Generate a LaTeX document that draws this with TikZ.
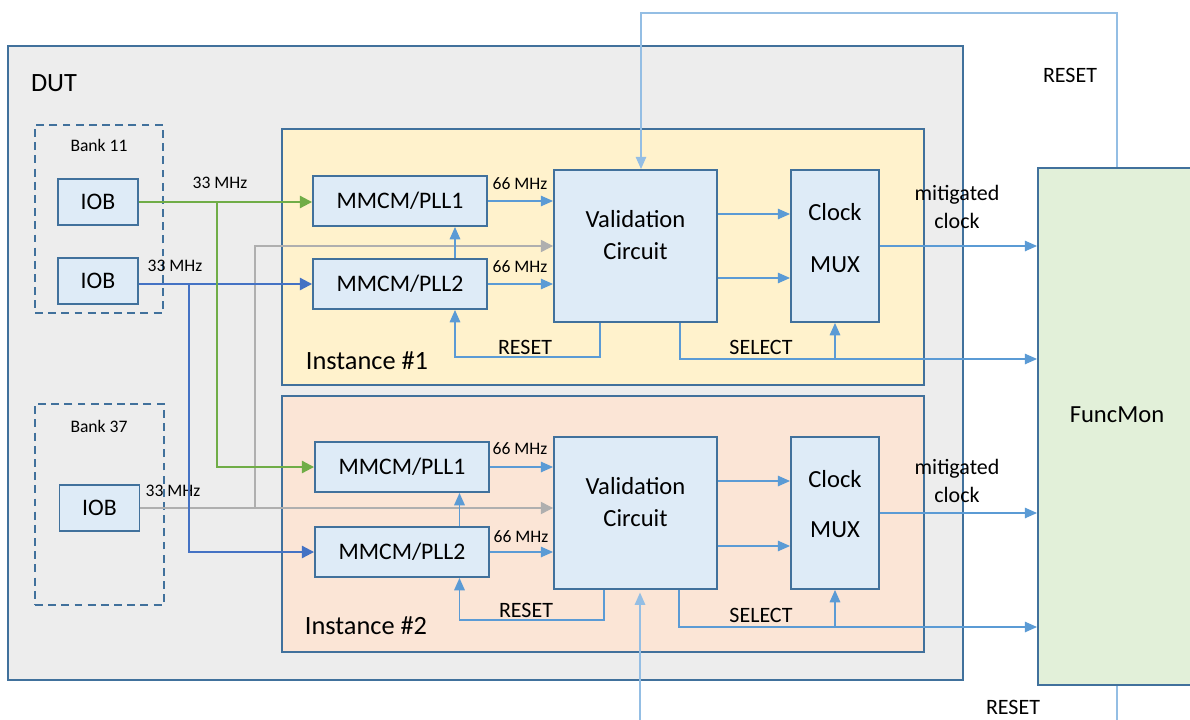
\documentclass[tikz,border=0pt]{standalone}
\usepackage{fontspec}
\setmainfont{Carlito}
\usetikzlibrary{arrows.meta}
\definecolor{frame}{RGB}{65,113,156}
\definecolor{dutgray}{RGB}{237,237,237}
\definecolor{blockblue}{RGB}{222,235,247}
\definecolor{instyellow}{RGB}{255,242,204}
\definecolor{instpeach}{RGB}{251,229,214}
\definecolor{mongreen}{RGB}{226,240,217}
\definecolor{sigblue}{RGB}{91,155,213}
\definecolor{clkgreen}{RGB}{112,173,71}
\definecolor{clkblue}{RGB}{68,114,196}
\definecolor{clkgray}{RGB}{175,175,175}

\tikzset{
  container/.style={draw=frame,line width=1.1pt,inner sep=0pt},
  bank/.style={draw=frame,line width=1.1pt,dash pattern=on 4.5pt off 3pt,inner sep=0pt},
  block/.style={draw=frame,fill=blockblue,line width=1.1pt,inner sep=0pt,
    font=\fontsize{13.5}{16}\selectfont},
  lbl/.style={align=center,font=\fontsize{14}{18}\selectfont},
  note/.style={font=\fontsize{10}{12}\selectfont},
  sigtext/.style={align=center,font=\fontsize{12.5}{16.4}\selectfont},
  sig/.style={sigblue,line width=0.8pt,-{Triangle[length=7pt,width=6pt]}},
  clk/.style={line width=1.2pt,-{Triangle[length=7pt,width=7pt]}}
}

\begin{document}
\begin{tikzpicture}[x=0.02cm,y=-0.02cm]
\useasboundingbox (0,0) rectangle (1190,720);

% frames
\node[container,fill=dutgray,minimum width=19.1cm,minimum height=12.68cm] (dut) at (485.5,363) {};
\node[container,fill=mongreen,minimum width=3.4cm,minimum height=10.34cm] (funcmon) at (1123,426.5) {};
\node[bank,minimum width=2.56cm,minimum height=3.76cm] (bank11) at (99,219) {};
\node[bank,minimum width=2.58cm,minimum height=4.02cm] (bank37) at (99.5,504.5) {};
\node[container,fill=instyellow,minimum width=12.84cm,minimum height=5.12cm] (inst1) at (603,257) {};
\node[container,fill=instpeach,minimum width=12.84cm,minimum height=5.12cm] (inst2) at (603,524) {};

% blocks
\node[block,minimum width=1.6cm,minimum height=0.92cm] (iobA) at (98,202) {IOB};
\node[block,minimum width=1.6cm,minimum height=0.92cm] (iobB) at (98,281) {IOB};
\node[block,minimum width=1.6cm,minimum height=0.92cm] (iobC) at (99.5,508) {IOB};
\node[block,minimum width=3.48cm,minimum height=1cm] (pllA1) at (400,201) {MMCM/PLL1};
\node[block,minimum width=3.48cm,minimum height=1cm] (pllA2) at (400,284) {MMCM/PLL2};
\node[block,minimum width=3.48cm,minimum height=1cm] (pllB1) at (402,467) {MMCM/PLL1};
\node[block,minimum width=3.48cm,minimum height=1cm] (pllB2) at (402,552) {MMCM/PLL2};
\node[block,minimum width=3.26cm,minimum height=3.04cm] (valA) at (635.5,246) {};
\node[block,minimum width=1.76cm,minimum height=3.04cm] (muxA) at (835,246) {};
\node[block,minimum width=3.26cm,minimum height=3.04cm] (valB) at (635.5,513) {};
\node[block,minimum width=1.76cm,minimum height=3.04cm] (muxB) at (835,513) {};

% texts
\node[lbl,font=\fontsize{15}{16}\selectfont] (dutlbl) at (54,83) {DUT};
\node[note] (bank11lbl) at (99,145) {Bank 11};
\node[note] (bank37lbl) at (99,426) {Bank 37};
\node[lbl,font=\fontsize{15}{16}\selectfont] (inst1lbl) at (367,361) {Instance \#1};
\node[lbl,font=\fontsize{15}{16}\selectfont] (inst2lbl) at (366,626) {Instance \#2};
\node[lbl] (valAtxt) at (635.5,235) {Validation\\Circuit};
\node[lbl] (valBtxt) at (635.5,502) {Validation\\Circuit};
\node[lbl] (muxAtxt) at (835,238) {Clock\\[11.5pt]MUX};
\node[lbl] (muxBtxt) at (835,504) {Clock\\[10.5pt]MUX};
\node[lbl] (funcmonlbl) at (1117,415) {FuncMon};
\node[note] (fA) at (220,183) {33 MHz};
\node[note] (fB) at (175,266) {33 MHz};
\node[note] (fC) at (173,491) {33 MHz};
\node[note] (fA1) at (520,184) {66 MHz};
\node[note] (fA2) at (520,267) {66 MHz};
\node[note] (fB1) at (520,449) {66 MHz};
\node[note] (fB2) at (521,537) {66 MHz};
\node[sigtext] (rstAlbl) at (525,347) {RESET};
\node[sigtext] (rstBlbl) at (526,610) {RESET};
\node[sigtext] (selAlbl) at (761,347) {SELECT};
\node[sigtext] (selBlbl) at (761,615) {SELECT};
\node[sigtext] (mitA) at (957,207) {mitigated\\clock};
\node[sigtext] (mitB) at (957,481) {mitigated\\clock};
\node[sigtext] (rsttoplbl) at (1070,75) {RESET};
\node[sigtext] (rstbotlbl) at (1013,707) {RESET};

% clock inputs
\coordinate (graysplit) at (255,508);
\coordinate (bluesplit) at (189,283);
\coordinate (greensplit) at (217,202);
\draw[clk,clkgray,line width=0.7pt] (iobC.east) -- (iobC.east -| valB.west);
\draw[clk,clkgray,line width=0.7pt] (graysplit) |- (valA.west);
\draw[clk,clkblue] (iobB.east |- pllA2.west) -- (pllA2.west);
\draw[clk,clkblue] (bluesplit) |- (pllB2.west);
\draw[clk,clkgreen] (iobA.east) -- (iobA.east -| pllA1.west);
\draw[clk,clkgreen] (greensplit) |- (pllB1.west);

% instance 1
\draw[sig] (pllA1.east) -- (pllA1.east -| valA.west);
\draw[sig] (pllA2.east) -- (pllA2.east -| valA.west);
\draw[sig] ([xshift=1.1cm]pllA2.north) -- ([xshift=1.1cm]pllA1.south);
\draw[sig] ([yshift=0.64cm]valA.east) -- ([yshift=0.64cm]muxA.west);
\draw[sig] ([yshift=-0.64cm]valA.east) -- ([yshift=-0.64cm]muxA.west);
\draw[sig] (muxA.east) -- (muxA.east -| funcmon.west);
\coordinate (rstA) at (600,357);
\draw[sig] (valA.south -| rstA) -- (rstA) -| ([xshift=1.1cm]pllA2.south);
\coordinate (selA) at (680,359);
\draw[sig] (valA.south -| selA) -- (selA) -- (selA -| funcmon.west);
\draw[sig] (selA -| muxA.south) -- (muxA.south);

% instance 2
\draw[sig] (pllB1.east) -- (pllB1.east -| valB.west);
\draw[sig] (pllB2.east) -- (pllB2.east -| valB.west);
\draw[sig] ([xshift=1.15cm]pllB2.north) -- ([xshift=1.15cm]pllB1.south);
\draw[sig] ([yshift=0.64cm]valB.east) -- ([yshift=0.64cm]muxB.west);
\draw[sig] ([yshift=-0.66cm]valB.east) -- ([yshift=-0.66cm]muxB.west);
\draw[sig] (muxB.east) -- (muxB.east -| funcmon.west);
\coordinate (rstB) at (604,620);
\draw[sig] (valB.south -| rstB) -- (rstB) -| ([xshift=1.15cm]pllB2.south);
\coordinate (selB) at (679,627);
\draw[sig] (valB.south -| selB) -- (selB) -- (selB -| funcmon.west);
\draw[sig] (selB -| muxB.south) -- (muxB.south);

% reset loop from FuncMon
\coordinate (rsttop) at (1117,13);
\coordinate (rstbot) at (1117,730);
\coordinate (rstin) at (640,730);
\draw[sig,sigblue!65] (funcmon.north -| rsttop) -- (rsttop) -| ([xshift=0.11cm]valA.north);
\draw[sigblue!65,line width=0.8pt] (funcmon.south -| rstbot) -- (rstbot);
\draw[sig,sigblue!65,shorten >=1.5pt] (rstin) -- (rstin |- valB.south);
\end{tikzpicture}
\end{document}
